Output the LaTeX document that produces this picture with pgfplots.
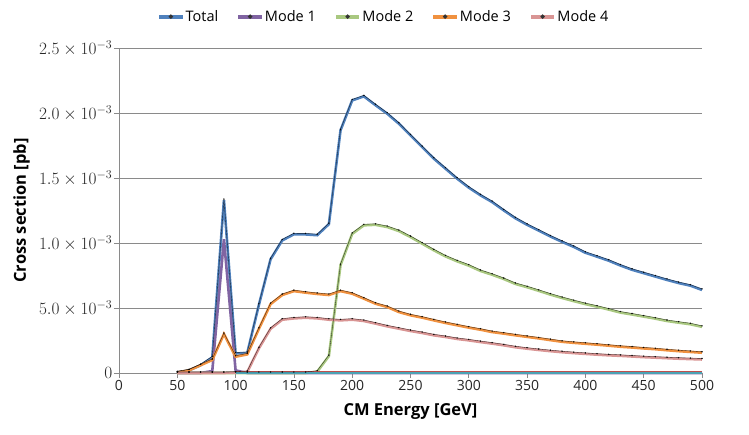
\documentclass[border=0pt]{standalone}
\usepackage{pgfplots}
\pgfplotsset{compat=1.18}
\usepackage{pgfplotstable}
\usepackage{fontspec}
\setmainfont{Open Sans}
\definecolor{cT}{HTML}{4F81BD}
\definecolor{cA}{HTML}{8064A2}
\definecolor{cB}{HTML}{A9C880}
\definecolor{cC}{HTML}{F0913F}
\definecolor{cD}{HTML}{D99594}
\definecolor{cE}{HTML}{C0504D}
\definecolor{cF}{HTML}{4BA3B5}
\definecolor{gridc}{HTML}{8A8A8A}

\pgfplotstableread{
x T M1 M2 M3 M4
50 0.005 0 0 0.005 0
60 0.02 0 0 0.02 0
70 0.06 0 0 0.06 0
80 0.12 0.015 0 0.10 0
90 1.33 1.028 0 0.30 0
100 0.150 0.02 0 0.125 0.003
110 0.154 0 0 0.143 0.008
120 0.525 0 0 0.34 0.19
130 0.875 0 0 0.53 0.34
140 1.02 0 0 0.60 0.41
150 1.067 0 0 0.63 0.42
160 1.066 0 0 0.618 0.425
170 1.06 0 0.01 0.608 0.42
180 1.145 0 0.13 0.60 0.41
190 1.867 0 0.83 0.63 0.405
200 2.097 0 1.07 0.61 0.41
210 2.128 0 1.136 0.572 0.40
220 2.06 0 1.14 0.533 0.38
230 1.995 0 1.123 0.508 0.359
240 1.918 0 1.092 0.469 0.341
250 1.828 0 1.046 0.444 0.323
260 1.738 0 0.995 0.426 0.308
270 1.649 0 0.944 0.405 0.29
280 1.572 0 0.897 0.385 0.277
290 1.495 0 0.859 0.367 0.262
300 1.426 0 0.826 0.349 0.251
310 1.367 0 0.785 0.333 0.238
320 1.315 0 0.756 0.315 0.226
330 1.251 0 0.723 0.303 0.213
340 1.19 0 0.685 0.29 0.198
350 1.14 0 0.66 0.278 0.187
360 1.095 0 0.632 0.266 0.177
370 1.05 0 0.603 0.253 0.168
380 1.009 0 0.577 0.24 0.16
390 0.97 0 0.553 0.232 0.153
400 0.925 0 0.53 0.225 0.147
410 0.895 0 0.51 0.218 0.141
420 0.864 0 0.488 0.21 0.136
430 0.827 0 0.465 0.202 0.132
440 0.794 0 0.45 0.196 0.127
450 0.768 0 0.434 0.189 0.122
460 0.742 0 0.418 0.183 0.118
470 0.716 0 0.40 0.175 0.114
480 0.692 0 0.387 0.168 0.11
490 0.672 0 0.375 0.162 0.107
500 0.639 0 0.355 0.156 0.104
}\data

\pgfplotstableread{
x Z
100 0
110 0
120 0
130 0
140 0
150 0
160 0
170 0
180 0
190 0
200 0
210 0
220 0
230 0
240 0
250 0
260 0
270 0
280 0
290 0
300 0
310 0
320 0
330 0
340 0
350 0
360 0
370 0
380 0
390 0
400 0
410 0
420 0
430 0
440 0
450 0
460 0
470 0
480 0
490 0
500 0
}\zerodata

\begin{document}
\begin{tikzpicture}
\begin{axis}[
  at={(0,0)}, anchor=south west,
  scale only axis, width=583pt, height=325pt,
  xmin=0, xmax=500, ymin=0, ymax=2.5,
  clip=false,
  axis x line=bottom, axis y line=left,
  axis line style={-, gridc, line width=0.8pt},
  tick style={gridc, line width=0.6pt},
  tick align=outside, major tick length=5pt,
  xtick={0,50,...,500},
  xticklabels={0,50,100,150,200,250,300,350,400,450,500},
  xticklabel style={font=\fontsize{14}{16}\selectfont, text=black!85, inner sep=2pt},
  ytick={0,0.5,1,1.5,2,2.5},
  yticklabels={$0$,$5.0\times10^{-3}$,$1.0\times10^{-3}$,$1.5\times10^{-3}$,$2.0\times10^{-3}$,$2.5\times10^{-3}$},
  yticklabel style={font=\fontsize{16.5}{18}\selectfont, text=black!85, inner sep=1.5pt},
  ymajorgrids, grid style={gridc, line width=0.8pt},
  xlabel={CM Energy [GeV]},
  ylabel={Cross section [pb]},
  every axis x label/.style={at={(axis description cs:0.5,-0.117)}, anchor=center, font=\bfseries\fontsize{16.5}{19}\selectfont},
  every axis y label/.style={at={(axis description cs:-0.167,0.5)}, anchor=center, rotate=90, font=\bfseries\fontsize{16.5}{19}\selectfont},
  legend columns=5,
  legend style={draw=none, fill=none, at={(0.455,1.095)}, anchor=center,
    font=\fontsize{14.5}{16}\selectfont,
    /tikz/every even column/.append style={column sep=19pt},
    /tikz/every odd column/.append style={column sep=2pt},
    nodes={inner sep=1pt}},
  legend image code/.code={%
     \fill[#1] (0pt,-0.9pt) rectangle (21pt,0.9pt);
     \fill[black!80] (10.5pt,0.5pt) circle (0.55pt);},
]
\addplot[color=cT, line width=2.6pt, no markers] table[x=x, y=T] {\data};
\addlegendentry{Total}
\addplot[color=cA, line width=2.6pt, no markers] table[x=x, y=M1] {\data};
\addlegendentry{Mode 1}
\addplot[color=cB, line width=2.6pt, no markers] table[x=x, y=M2] {\data};
\addlegendentry{Mode 2}
\addplot[color=cC, line width=2.6pt, no markers] table[x=x, y=M3] {\data};
\addlegendentry{Mode 3}
\addplot[color=cD, line width=2.6pt, no markers] table[x=x, y=M4] {\data};
\addlegendentry{Mode 4}
\addplot[color=cF, line width=2.8pt, no markers, forget plot, yshift=0.6pt] table[x=x, y=Z] {\zerodata};
\addplot[color=cE, line width=0.5pt, no markers, forget plot, yshift=1.6pt] table[x=x, y=Z] {\zerodata};
% thin dark overlays with small markers
\addplot[black, opacity=0.75, line width=0.35pt, yshift=1.0pt, mark=*, mark size=0.55pt, forget plot] table[x=x, y=T] {\data};
\addplot[black, opacity=0.75, line width=0.35pt, yshift=1.0pt, mark=*, mark size=0.55pt, forget plot] table[x=x, y=M2] {\data};
\addplot[black, opacity=0.75, line width=0.35pt, yshift=1.0pt, mark=*, mark size=0.55pt, forget plot] table[x=x, y=M3] {\data};
\addplot[black, opacity=0.75, line width=0.35pt, yshift=1.0pt, mark=*, mark size=0.55pt, forget plot] table[x=x, y=M4] {\data};
\end{axis}
\pgfresetboundingbox
\path[use as bounding box] (-119pt,-61pt) rectangle (630pt,373pt);
\end{tikzpicture}
\end{document}
